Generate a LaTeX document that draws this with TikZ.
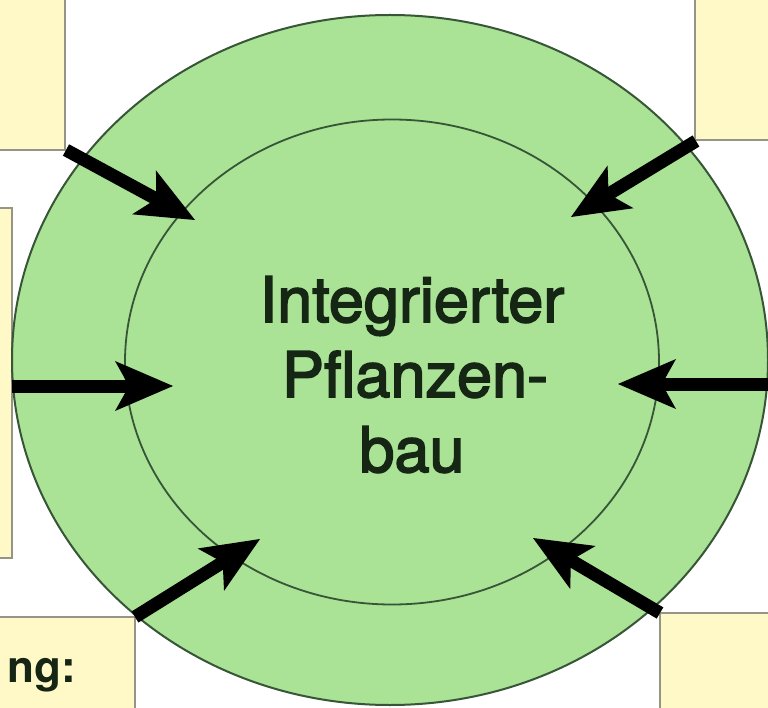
\documentclass[tikz,border=0pt]{standalone}
\usepackage{fontspec}
\setmainfont{TeX Gyre Heros}
\newfontfamily\titlefont[FakeBold=2.6]{TeX Gyre Heros}
\usetikzlibrary{calc,shapes.geometric}
\definecolor{boxyellow}{RGB}{255,249,200}
\definecolor{boxline}{RGB}{150,148,135}
\definecolor{ringgreen}{RGB}{170,226,150}
\definecolor{ringline}{RGB}{55,85,55}
\definecolor{txtdark}{RGB}{22,38,20}
\tikzset{
  ybox/.style={draw=boxline, line width=1.8pt, fill=boxyellow},
  ring/.style={ellipse, draw=ringline, fill=ringgreen, inner sep=0pt},
  flowline/.style={line width=13pt, black},
  flowhead/.style={fill=black},
  title/.style={font=\titlefont\fontsize{63}{75}\selectfont, text=txtdark, anchor=base, inner sep=0pt},
}
% arrow from #1 to #2, head drawn as filled dart
\newcommand{\flowarrow}[2]{%
  \coordinate (#2-b) at ($(#2)!58pt!(#1)$);
  \coordinate (#2-n) at ($(#2)!44pt!(#1)$);
  \coordinate (#2-l) at ($(#2-b)!25pt!90:(#2)$);
  \coordinate (#2-r) at ($(#2-b)!25pt!-90:(#2)$);
  \draw[flowline] (#1) -- ($(#2)!30pt!(#1)$);
  \fill[flowhead] (#2) -- (#2-l) -- (#2-n) -- (#2-r) -- cycle;
}
\begin{document}
\begin{tikzpicture}[x=1pt,y=-1pt]
\useasboundingbox (0,0) rectangle (768,708);
\clip (0,0) rectangle (768,708);
\fill[white] (0,0) rectangle (768,708);
% yellow boxes
\draw[ybox] (-5,-5) rectangle (65,150);
\draw[ybox] (695,-5) rectangle (775,140);
\draw[ybox] (-5,208) rectangle (12,558);
\draw[ybox] (-5,617) rectangle (135,715);
\draw[ybox] (660,613) rectangle (775,715);
\node[font=\bfseries\fontsize{44}{50}\selectfont, text=txtdark, anchor=base east, inner sep=0pt] (lbl) at (76,682) {ng:};
% rings
\node[ring, line width=2pt, minimum width=756pt, minimum height=690pt] (outer) at (390,360) {};
\node[ring, line width=1.8pt, minimum width=534pt, minimum height=485pt] (inner) at (392,362) {};
% title
\node[title] (t1) at (412,322) {Integrierter};
\node[title] (t2) at (415,397) {Pflanzen-};
\node[title] (t3) at (412,472) {bau};
% arrow anchors
\coordinate (sTL) at (66,150);
\coordinate (eTL) at (195,220);
\coordinate (sTR) at (696,141);
\coordinate (eTR) at (571,217);
\coordinate (sL) at (12,386);
\coordinate (eL) at (173,386);
\coordinate (sR) at (772,384);
\coordinate (eR) at (618,384);
\coordinate (sBL) at (135,617);
\coordinate (eBL) at (260,539);
\coordinate (sBR) at (660,613);
\coordinate (eBR) at (533,538);
\flowarrow{sTL}{eTL}
\flowarrow{sTR}{eTR}
\flowarrow{sL}{eL}
\flowarrow{sR}{eR}
\flowarrow{sBL}{eBL}
\flowarrow{sBR}{eBR}
\end{tikzpicture}
\end{document}
